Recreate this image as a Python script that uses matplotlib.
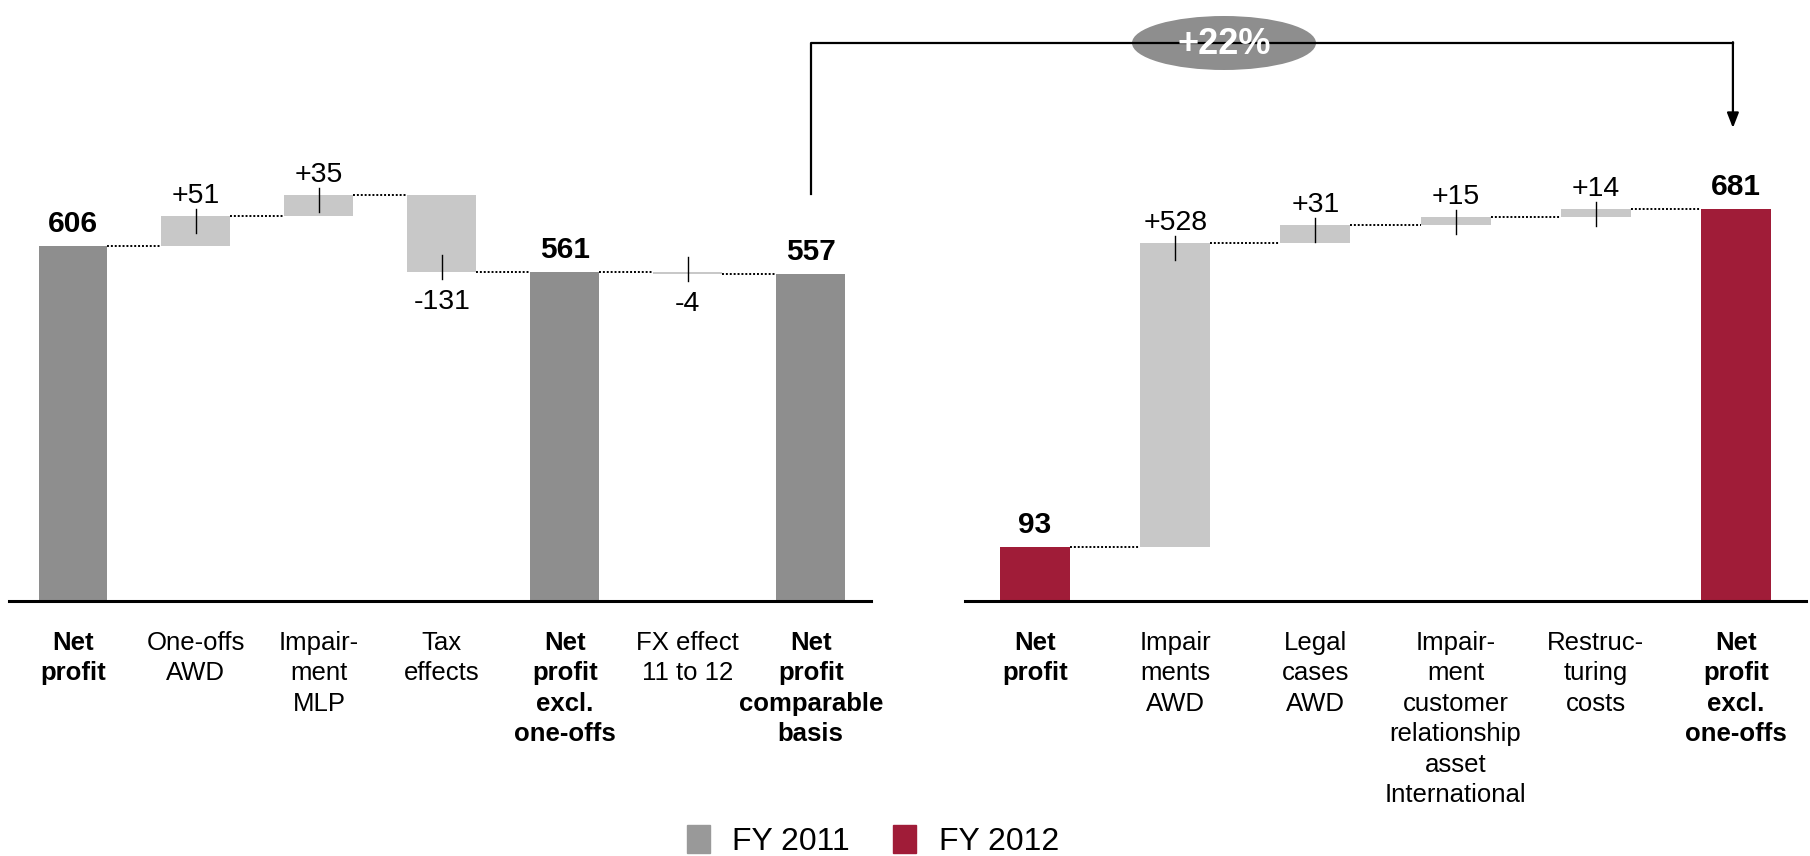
import matplotlib.pyplot as plt
import matplotlib.patches as mpatches
import numpy as np

plt.rcParams['font.family'] = ['Liberation Sans', 'DejaVu Sans']

# FY 2011 bridge
left_labels = ['Net\nprofit', 'One-offs\nAWD', 'Impair-\nment\nMLP', 'Tax\neffects',
               'Net\nprofit\nexcl.\none-offs', 'FX effect\n11 to 12',
               'Net\nprofit\ncomparable\nbasis']
left_values = [606, 51, 35, -131, 561, -4, 557]
left_total = [True, False, False, False, True, False, True]

# FY 2012 bridge
right_labels = ['Net\nprofit', 'Impair\nments\nAWD', 'Legal\ncases\nAWD',
                'Impair-\nment\ncustomer\nrelationship\nasset\nInternational',
                'Restruc-\nturing\ncosts', 'Net\nprofit\nexcl.\none-offs']
right_values = [93, 528, 31, 15, 14, 681]
right_total = [True, False, False, False, False, True]

growth_label = '+22%'
legend_labels = ['FY 2011', 'FY 2012']

DARK = '#8e8e8e'
LIGHT = '#c8c8c8'
RED = '#a01c38'
LEG_GRAY = '#999999'

W, H = 1810, 856
fig = plt.figure(figsize=(W / 100, H / 100), dpi=100)

base = 601  # baseline, pixels from top


def waterfall(ax, labels, values, totals, total_color, width, ymax):
    ax.set_ylim(0, ymax)
    px = ax.bbox.height / ymax  # pixels per unit
    running = 0
    ends = []
    for i, (v, tot) in enumerate(zip(values, totals)):
        if tot:
            running = v
            ax.bar(i, v, width=width, color=total_color, zorder=2)
            ax.annotate(f'{v}', (i, v), xytext=(0, 14), textcoords='offset pixels',
                        ha='center', va='baseline', fontsize=21.5, fontweight='bold')
        else:
            ax.bar(i, v, bottom=running, width=width, color=LIGHT, zorder=2)
            end = running + v
            if v > 0:
                ax.plot([i, i], [end + 7 / px, end - 17 / px], color='black', lw=1, zorder=3)
                ax.annotate(f'+{v}', (i, end), xytext=(0, 13), textcoords='offset pixels',
                            ha='center', va='baseline', fontsize=20.5)
            else:
                ax.plot([i, i], [end - 7 / px, end + 17 / px], color='black', lw=1, zorder=3)
                ax.annotate(f'{v}', (i, end), xytext=(0, -37), textcoords='offset pixels',
                            ha='center', va='baseline', fontsize=20.5)
            running = end
        ends.append(running)
    # dotted connectors between neighbouring bars
    for i in range(len(values) - 1):
        ax.plot([i + width / 2, i + 1 - width / 2], [ends[i], ends[i]],
                color='black', lw=1.4, ls=(0, (1, 1)), zorder=1)
    for i, lab in enumerate(labels):
        ax.annotate(lab, (i, 0), xycoords=('data', 'axes fraction'),
                    xytext=(0, -30), textcoords='offset pixels',
                    ha='center', va='top', fontsize=18.5, linespacing=1.34,
                    fontweight='bold' if totals[i] else 'normal')
    ax.set_xticks([])
    ax.set_yticks([])
    for s in ['top', 'left', 'right']:
        ax.spines[s].set_visible(False)
    ax.spines['bottom'].set_linewidth(2.2)


ax1 = fig.add_axes([9 / W, 1 - base / H, (871 - 9) / W, base / H])
ax1.set_xlim(-0.52, 6.49)
ax2 = fig.add_axes([965 / W, 1 - base / H, (1806 - 965) / W, base / H])
ax2.set_xlim(-0.5, 5.5)

waterfall(ax1, left_labels, left_values, left_total, DARK, 0.56, 1025)
waterfall(ax2, right_labels, right_values, right_total, RED, 0.5, 1043)

# growth bracket on a pixel overlay
ov = fig.add_axes([0, 0, 1, 1], zorder=5)
ov.set_xlim(0, W)
ov.set_ylim(0, H)
ov.axis('off')
x_start = ax1.transData.transform((6, 0))[0]
x_end = ax2.transData.transform((5, 0))[0] - 3
y_top = H - 43
ov.plot([x_start, x_start, x_end], [H - 194, y_top, y_top], color='black', lw=1.6)
ov.annotate('', xy=(x_end, H - 128), xytext=(x_end, y_top + 0.8),
            arrowprops=dict(arrowstyle='-|>,head_width=0.35,head_length=0.9',
                            color='black', lw=1.6, shrinkA=0, shrinkB=0))
ov.add_patch(mpatches.Ellipse((1224, y_top), 184, 54, facecolor=DARK, edgecolor='none'))
ov.text(1224, y_top - 1, growth_label, ha='center', va='center', color='white',
        fontsize=26, fontweight='bold')

handles = [mpatches.Patch(color=LEG_GRAY), mpatches.Patch(color=RED)]
fig.legend(handles, legend_labels, loc='lower center', bbox_to_anchor=(873 / W, -0.016),
           ncol=2, frameon=False, fontsize=23, handlelength=0.72, handleheight=1.0,
           handletextpad=0.7, columnspacing=1.35, borderaxespad=0)

fig.savefig('out.png', dpi=100)
